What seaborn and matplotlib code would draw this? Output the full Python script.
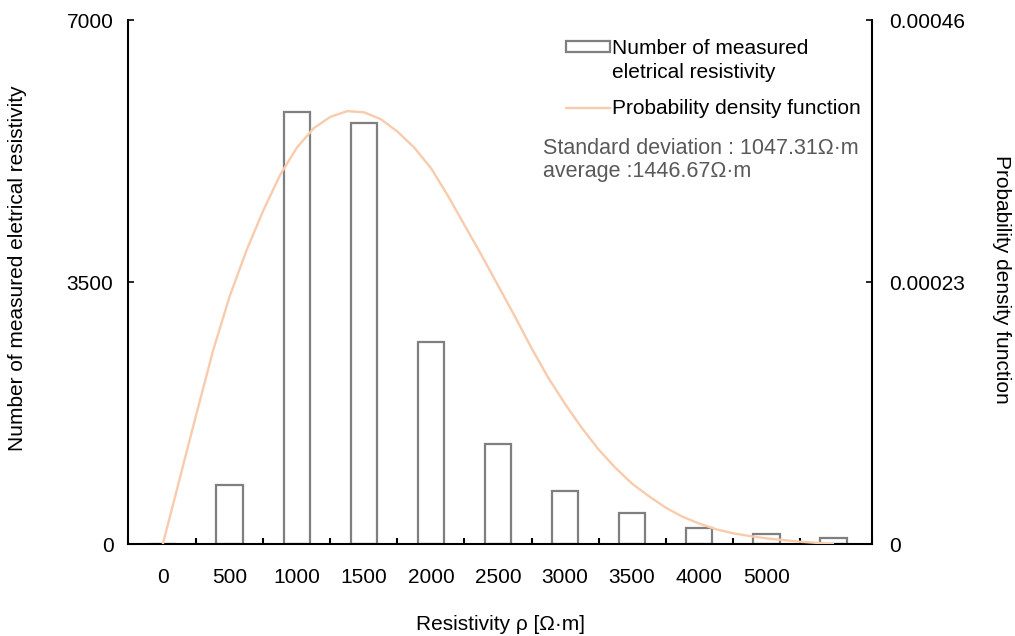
import matplotlib
matplotlib.use("Agg")
import matplotlib.pyplot as plt
import seaborn as sns
import pandas as pd
from matplotlib.patches import Patch, Rectangle
from matplotlib.lines import Line2D
from matplotlib.legend_handler import HandlerPatch
from matplotlib.ticker import FixedLocator, FixedFormatter

# ---- data ----
bins = ["0", "500", "1000", "1500", "2000", "2500", "3000", "3500", "4000", "5000", "6000"]
tick_labels = ["0", "500", "1000", "1500", "2000", "2500", "3000", "3500", "4000", "5000", ""]
counts = [0, 792, 5767, 5628, 2703, 1332, 712, 414, 210, 130, 85]

pdf_pos = [0, 0.25, 0.5, 0.75, 1.0, 1.25, 1.5, 1.75, 2.0, 2.25, 2.5, 2.75, 3.0,
           3.25, 3.5, 3.75, 4.0, 4.25, 4.5, 4.75, 5.0, 5.25, 5.5, 5.75, 6.0,
           6.25, 6.5, 6.75, 7.0, 7.25, 7.5, 7.75, 8.0, 8.25, 8.5, 8.75, 9.0,
           9.25, 9.5, 9.75, 10.0]
pdf_vals = [0.0, 0.57e-4, 1.14e-4, 1.70e-4, 2.18e-4, 2.58e-4, 2.93e-4, 3.24e-4,
            3.48e-4, 3.65e-4, 3.75e-4, 3.80e-4, 3.79e-4, 3.73e-4, 3.62e-4,
            3.48e-4, 3.30e-4, 3.06e-4, 2.80e-4, 2.54e-4, 2.27e-4, 2.00e-4,
            1.72e-4, 1.46e-4, 1.23e-4, 1.02e-4, 0.83e-4, 0.67e-4, 0.53e-4,
            0.42e-4, 0.32e-4, 0.24e-4, 0.18e-4, 0.13e-4, 0.095e-4, 0.07e-4,
            0.05e-4, 0.035e-4, 0.02e-4, 0.01e-4, 0.0]

left_ticks = [0, 3500, 7000]
right_ticks = [0, 0.00023, 0.00046]
right_tick_labels = ["0", "0.00023", "0.00046"]

stats_lines = ["Standard deviation : 1047.31\u03a9\u00b7m", "average :1446.67\u03a9\u00b7m"]

# ---- style ----
sns.set_theme(style="white")
plt.rcParams["font.family"] = ["Liberation Sans", "DejaVu Sans"]

FS = 15
BAR_EDGE = "#7f7f7f"
PDF_COLOR = "#f8cbad"
TXT = "#000000"
GRAY_TXT = "#595959"

fig = plt.figure(figsize=(10.15, 6.36), dpi=100)
ax = fig.add_axes([128 / 1015, 1 - 544 / 636, (872 - 128) / 1015, (544 - 20) / 636])

df = pd.DataFrame({"bin": bins, "count": counts})
sns.barplot(data=df, x="bin", y="count", order=bins, ax=ax, width=0.4,
            facecolor="white", edgecolor=BAR_EDGE, linewidth=1.6)

ax.set_xlim(-0.52, 10.58)
ax.set_ylim(0, 7000)

ax2 = ax.twinx()
sns.lineplot(x=pdf_pos, y=pdf_vals, ax=ax2, color=PDF_COLOR, linewidth=1.7)
ax2.set_ylim(0, 0.00046)
ax2.set_xlim(-0.52, 10.58)

# spines
for a in (ax, ax2):
    a.spines["top"].set_visible(False)
    for s in ("left", "right", "bottom"):
        a.spines[s].set_color("black")
        a.spines[s].set_linewidth(1.5)
ax.spines["right"].set_visible(False)
ax2.spines["left"].set_visible(False)
ax2.spines["bottom"].set_visible(False)

# x ticks
ax.xaxis.set_major_locator(FixedLocator(list(range(len(bins)))))
ax.xaxis.set_major_formatter(FixedFormatter(tick_labels))
ax.xaxis.set_minor_locator(FixedLocator([i + 0.5 for i in range(len(bins) - 1)]))
ax.tick_params(axis="x", which="major", length=0, pad=17, labelsize=FS, labelcolor=TXT)
ax.tick_params(axis="x", which="minor", direction="in", length=4.5, width=1.5,
               color="black", bottom=True)

# y ticks
ax.set_yticks(left_ticks)
ax.set_yticklabels([str(t) for t in left_ticks])
ax.tick_params(axis="y", direction="in", length=4, width=1.2, color="black",
               labelsize=FS, labelcolor=TXT, pad=10.5, left=True)
ax2.yaxis.set_major_locator(FixedLocator(right_ticks))
ax2.yaxis.set_major_formatter(FixedFormatter(right_tick_labels))
ax2.tick_params(axis="y", direction="in", length=4, width=1.2, color="black",
                labelsize=FS, labelcolor=TXT, pad=12.5, right=True)

ax.set_xlabel("")
ax.set_ylabel("")
ax2.set_ylabel("")
ax.grid(False)
ax2.grid(False)

fig.text(18 / 1015, 1 - 268 / 636, "Number of measured eletrical resistivity",
         rotation=90, ha="center", va="center", fontsize=FS, color=TXT)
fig.text(1002 / 1015, 1 - 279 / 636, "Probability density function",
         rotation=270, ha="center", va="center", fontsize=FS, color=TXT)
fig.text(500 / 1015, 1 - 624 / 636, "Resistivity \u03c1 [\u03a9\u00b7m]",
         ha="center", va="center", fontsize=FS, color=TXT)


def top_patch(legend, orig_handle, xdescent, ydescent, width, height, fontsize):
    return Rectangle((-xdescent, -ydescent + 0.68 * fontsize), width, height)


handles = [Patch(facecolor="white", edgecolor=BAR_EDGE, linewidth=1.6),
           Line2D([0], [0], color=PDF_COLOR, linewidth=1.7)]
labels = ["Number of measured\neletrical resistivity", "Probability density function"]
leg = fig.legend(handles, labels, loc="upper left",
                 bbox_to_anchor=(566 / 1015, 1 - 39 / 636), frameon=False,
                 fontsize=FS, handlelength=2.1, handleheight=0.43,
                 handletextpad=0.12, labelspacing=0.85, borderaxespad=0,
                 borderpad=0,
                 handler_map={Patch: HandlerPatch(patch_func=top_patch)})
for t in leg.get_texts():
    t.set_color(TXT)
    t.set_linespacing(1.3)

fig.text(543 / 1015, 1 - 149 / 636, stats_lines[0], ha="left", va="center",
         fontsize=15.5, color=GRAY_TXT)
fig.text(543 / 1015, 1 - 172 / 636, stats_lines[1], ha="left", va="center",
         fontsize=15.5, color=GRAY_TXT)

fig.savefig("out.png", dpi=100)
